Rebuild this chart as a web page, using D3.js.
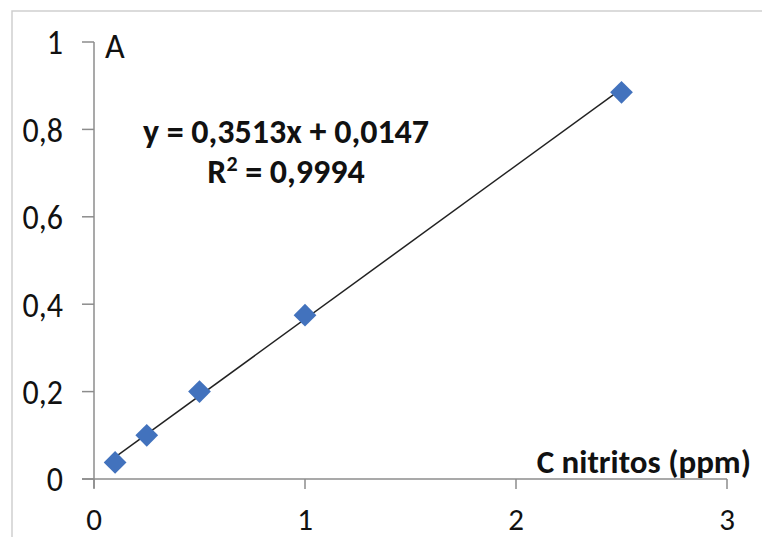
<!DOCTYPE html>
<html>
<head>
<meta charset="utf-8">
<script src="https://cdn.jsdelivr.net/npm/d3@7"></script>
<style>
  body { margin: 0; background: #fff; }
  text { font-family: Carlito, "Liberation Sans Narrow", "Open Sans", sans-serif; fill: #111; }
</style>
</head>
<body>
<svg width="762" height="537"></svg>
<script>
var concentrations = [0.1, 0.25, 0.5, 1.0, 2.5];
var absorbances = [0.038, 0.1, 0.2, 0.375, 0.885];
var xTicks = [0, 1, 2, 3];
var yTicks = [0, 0.2, 0.4, 0.6, 0.8, 1];
var slope = 0.3513, intercept = 0.0147;

var svg = d3.select("svg");

var x = d3.scaleLinear().domain([0, 3]).range([94, 727]);
var y = d3.scaleLinear().domain([0, 1]).range([479, 42]);
var fmt = function(v) { return String(v).replace(".", ","); };

// outer frame (only top and left visible)
svg.append("path")
    .attr("d", "M12,537V11H762")
    .attr("fill", "none")
    .attr("stroke", "#cfcfcf")
    .attr("stroke-width", 1.5);

// y axis
svg.append("line")
    .attr("x1", x(0)).attr("x2", x(0))
    .attr("y1", y(1)).attr("y2", y(0) + 9)
    .attr("stroke", "#8c8c8c").attr("stroke-width", 1.5);

svg.selectAll(".ytick").data(yTicks).enter().append("line")
    .attr("x1", x(0) - 12).attr("x2", x(0))
    .attr("y1", function(d) { return y(d); })
    .attr("y2", function(d) { return y(d); })
    .attr("stroke", "#8c8c8c").attr("stroke-width", 1.5);

svg.selectAll(".ylab").data(yTicks).enter().append("text")
    .attr("x", 63)
    .attr("y", function(d) { return y(d) + 11; })
    .attr("text-anchor", "end")
    .attr("transform", function(d) { return "translate(0," + (-0.12 * y(d)) + ") scale(1,1.12)"; })
    .style("font-size", "32px")
    .text(fmt);

// x axis
svg.append("line")
    .attr("x1", x(0) - 12).attr("x2", x(3))
    .attr("y1", y(0)).attr("y2", y(0))
    .attr("stroke", "#8c8c8c").attr("stroke-width", 1.5);

svg.selectAll(".xtick").data(xTicks).enter().append("line")
    .attr("x1", function(d) { return x(d); })
    .attr("x2", function(d) { return x(d); })
    .attr("y1", y(0)).attr("y2", y(0) + 10)
    .attr("stroke", "#8c8c8c").attr("stroke-width", 1.5);

svg.selectAll(".xlab").data(xTicks).enter().append("text")
    .attr("x", function(d) { return x(d); })
    .attr("y", 530)
    .attr("text-anchor", "middle")
    .style("font-size", "31px")
    .text(fmt);

// trend line
svg.append("line")
    .attr("x1", x(0.1)).attr("y1", y(slope * 0.1 + intercept))
    .attr("x2", x(2.5)).attr("y2", y(slope * 2.5 + intercept))
    .attr("stroke", "#222").attr("stroke-width", 1.5);

// markers
svg.selectAll(".pt").data(concentrations).enter().append("path")
    .attr("d", d3.symbol().type(d3.symbolDiamond2).size(330))
    .attr("transform", function(d, i) {
        return "translate(" + x(d) + "," + y(absorbances[i]) + ")";
    })
    .attr("fill", "#4272bd");

// labels
svg.append("text")
    .attr("x", 105).attr("y", 58)
    .style("font-size", "34px")
    .text("A");

svg.append("text")
    .attr("x", 286).attr("y", 143)
    .attr("text-anchor", "middle")
    .style("font-size", "34px").style("font-weight", "bold")
    .text("y = 0,3513x + 0,0147");

var r2 = svg.append("text")
    .attr("x", 286).attr("y", 183)
    .attr("text-anchor", "middle")
    .style("font-size", "34px").style("font-weight", "bold");
r2.append("tspan").text("R");
r2.append("tspan").attr("dy", -12).style("font-size", "22px").text("2");
r2.append("tspan").attr("dy", 12).text(" = 0,9994");

svg.append("text")
    .attr("x", 751).attr("y", 473)
    .attr("text-anchor", "end")
    .style("font-size", "33px").style("font-weight", "bold")
    .text("C nitritos (ppm)");
</script>
</body>
</html>
